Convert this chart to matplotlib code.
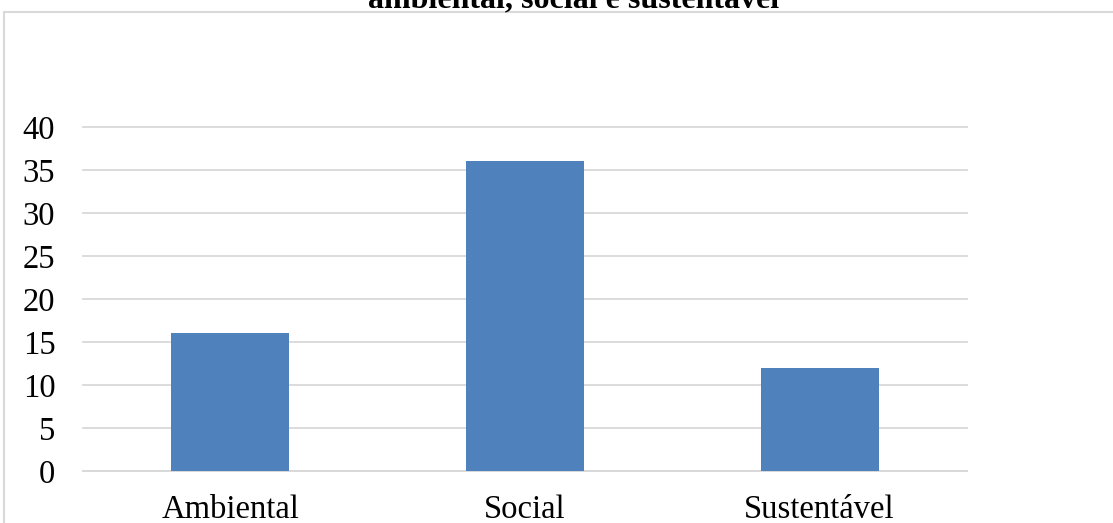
import matplotlib.pyplot as plt
from matplotlib.patches import Rectangle

# counts per category
categories = ["Ambiental", "Social", "Sustentável"]
values = [16, 36, 12]
yticks = [0, 5, 10, 15, 20, 25, 30, 35, 40]
title = "ambiental, social e sustentável"

plt.rcParams['font.family'] = ['Liberation Serif', 'DejaVu Serif']

fig = plt.figure(figsize=(11.13, 5.23), dpi=100)
ax = fig.add_axes([0.0746, 0.0994, 0.7942, 0.6578])

x = range(len(categories))
ax.bar(x, values, width=0.4, color="#4f81bd", zorder=3)
ax.set_xlim(-0.5, len(categories) - 0.5)
ax.set_ylim(0, 40)
ax.set_yticks(yticks)
ax.set_xticks(list(x))
ax.set_xticklabels(categories)
ax.tick_params(axis='both', length=0, labelsize=23.5, colors="black")
ax.tick_params(axis='y', pad=20)
ax.tick_params(axis='x', pad=17)
ax.grid(axis='y', color="#d9d9d9", linewidth=1.3, zorder=0)
for gl in ax.get_ygridlines():
    gl.set_clip_on(False)
for s in ["top", "right", "left"]:
    ax.spines[s].set_visible(False)
ax.spines["bottom"].set_color("#d9d9d9")
ax.spines["bottom"].set_linewidth(1.3)

# chart frame (runs past the right and bottom edges)
fig.add_artist(Rectangle((4 / 1113, -0.1), 1.2, 1 - 12 / 523 + 0.1,
                         transform=fig.transFigure, fill=False,
                         edgecolor="#d9d9d9", linewidth=1.5, clip_on=False))

# second title line, only its lower part fits on the canvas
fig.text(574 / 1113, 1 - 7 / 523, title, ha="center", va="baseline",
         fontsize=23, fontweight="bold")

fig.savefig("out.png", dpi=100)
